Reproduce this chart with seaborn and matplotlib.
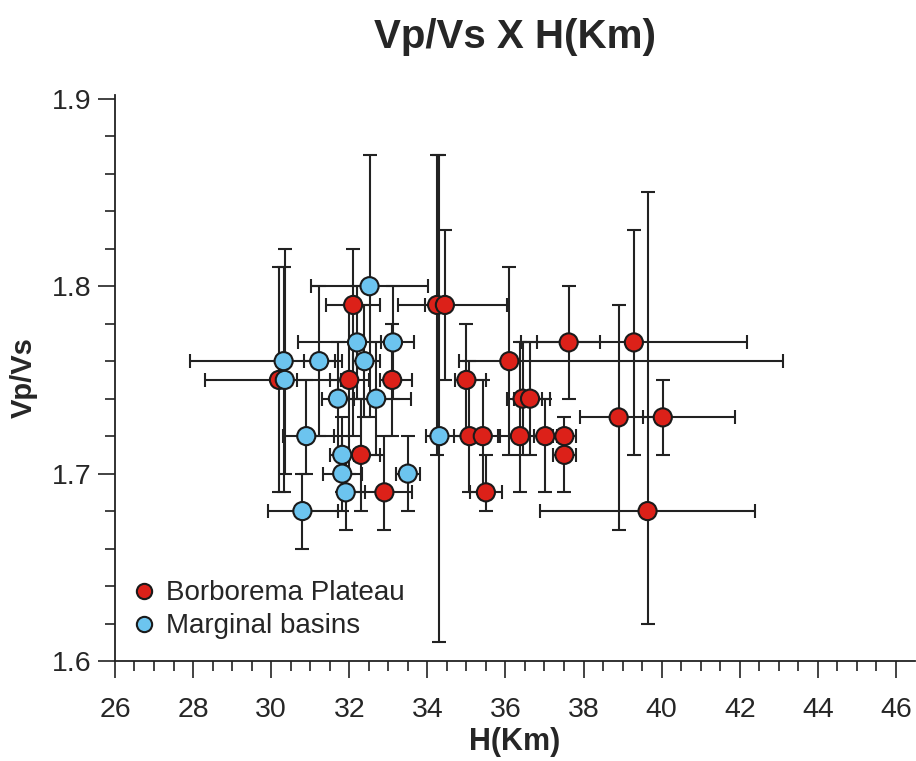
import numpy as np
import pandas as pd
import seaborn as sns
import matplotlib.pyplot as plt
from matplotlib.ticker import MultipleLocator

# Borborema Plateau stations: H (km), Vp/Vs and error bar extents (low side, high side)
red_h = [30.2, 32.1, 32.0, 33.1, 32.3, 32.9, 34.25, 34.45, 35.0, 36.1, 35.08, 35.42,
         35.5, 36.37, 36.44, 36.63, 37.02, 37.51, 37.51, 37.62, 39.29, 38.9, 40.03, 39.64]
red_vpvs = [1.75, 1.79, 1.75, 1.75, 1.71, 1.69, 1.79, 1.79, 1.75, 1.76, 1.72, 1.72,
            1.69, 1.72, 1.74, 1.74, 1.72, 1.72, 1.71, 1.77, 1.77, 1.73, 1.73, 1.68]
red_h_lo = [1.9, 0.7, 0.5, 0.3, 0.6, 1.0, 0.3, 1.2, 0.3, 1.3, 0.4, 0.3,
            0.4, 0.5, 0.4, 0.4, 0.3, 0.3, 0.3, 0.8, 2.9, 1.0, 0.5, 2.75]
red_h_hi = [1.6, 0.7, 0.5, 0.5, 0.5, 0.7, 0.3, 1.6, 0.5, 7.0, 0.4, 0.4,
            0.4, 0.5, 0.5, 0.5, 0.3, 0.3, 0.3, 0.8, 2.9, 1.0, 1.85, 2.75]
red_v_lo = [0.06, 0.07, 0.05, 0.03, 0.03, 0.02, 0.08, 0.04, 0.03, 0.05, 0.03, 0.03,
            0.01, 0.03, 0.03, 0.03, 0.03, 0.01, 0.02, 0.03, 0.06, 0.06, 0.02, 0.06]
red_v_hi = [0.06, 0.03, 0.04, 0.03, 0.03, 0.03, 0.08, 0.04, 0.03, 0.05, 0.04, 0.03,
            0.02, 0.05, 0.03, 0.03, 0.02, 0.01, 0.01, 0.03, 0.06, 0.06, 0.02, 0.17]

# Marginal basins stations
blue_h = [32.52, 32.2, 33.12, 30.32, 31.23, 32.39, 30.35, 31.71, 32.69, 30.9, 34.31,
          31.82, 31.82, 33.5, 31.91, 30.8]
blue_vpvs = [1.80, 1.77, 1.77, 1.76, 1.76, 1.76, 1.75, 1.74, 1.74, 1.72, 1.72,
             1.71, 1.70, 1.70, 1.69, 1.68]
blue_h_lo = [1.5, 1.5, 0.3, 2.4, 0.4, 0.3, 0.3, 0.4, 0.6, 0.6, 0.35,
             0.3, 0.5, 0.3, 0.1, 0.88]
blue_h_hi = [1.5, 0.9, 0.55, 1.5, 0.4, 0.4, 0.3, 0.4, 0.9, 0.7, 1.2,
             0.3, 0.5, 0.3, 0.5, 0.91]
blue_v_lo = [0.07, 0.03, 0.03, 0.07, 0.04, 0.03, 0.05, 0.03, 0.03, 0.02, 0.11,
             0.02, 0.02, 0.02, 0.02, 0.02]
blue_v_hi = [0.07, 0.03, 0.03, 0.05, 0.04, 0.03, 0.07, 0.03, 0.03, 0.03, 0.15,
             0.02, 0.02, 0.02, 0.02, 0.02]

groups = ["Borborema Plateau", "Marginal basins"]
colors = {"Borborema Plateau": "#dc2119", "Marginal basins": "#6cc4ef"}

df = pd.concat([
    pd.DataFrame({"H": red_h, "VpVs": red_vpvs, "h_lo": red_h_lo, "h_hi": red_h_hi,
                  "v_lo": red_v_lo, "v_hi": red_v_hi, "group": groups[0]}),
    pd.DataFrame({"H": blue_h, "VpVs": blue_vpvs, "h_lo": blue_h_lo, "h_hi": blue_h_hi,
                  "v_lo": blue_v_lo, "v_hi": blue_v_hi, "group": groups[1]}),
], ignore_index=True)

sns.set_style("ticks")
plt.rcParams["font.family"] = ["Liberation Sans Narrow", "Liberation Sans", "DejaVu Sans"]

fig = plt.figure(figsize=(9.16, 7.61), dpi=100)
ax = fig.add_axes([0.1255, 0.1314, 0.873, 0.7437])

ax.errorbar(df["H"], df["VpVs"],
            xerr=[df["h_lo"], df["h_hi"]], yerr=[df["v_lo"], df["v_hi"]],
            fmt="none", ecolor="#222222", elinewidth=1.5, capsize=5, capthick=1.5, zorder=2)

sns.scatterplot(data=df, x="H", y="VpVs", hue="group", hue_order=groups, palette=colors,
                s=170, edgecolor="#1a1a1a", linewidth=1.5, zorder=3, ax=ax)

ax.set_xlim(26, 46.48)
ax.set_ylim(1.6, 1.902)
ax.xaxis.set_major_locator(MultipleLocator(2))
ax.xaxis.set_minor_locator(MultipleLocator(0.5))
ax.yaxis.set_minor_locator(MultipleLocator(0.02))
ax.set_yticks([1.6, 1.7, 1.8, 1.9])
ax.set_yticklabels(["1.6", "1.7", "1.8", "1.9"])
ax.tick_params(which="major", length=12, width=1.2, labelsize=20.5, color="#222222", pad=5)
ax.tick_params(which="minor", length=7, width=1.2, color="#222222")
ax.tick_params(axis="x", pad=14)
for side in ["top", "right"]:
    ax.spines[side].set_visible(False)
for side in ["left", "bottom"]:
    ax.spines[side].set_linewidth(1.3)
    ax.spines[side].set_color("#222222")

ax.set_xlabel("H(Km)", fontsize=22, fontweight="bold", labelpad=3)
ax.set_ylabel("Vp/Vs", fontsize=21, fontweight="bold", labelpad=10)
ax.set_title("Vp/Vs X H(Km)", fontsize=29, fontweight="bold", pad=34)

leg = ax.legend(loc="lower left", bbox_to_anchor=(-0.012, -0.006), frameon=False,
                fontsize=20, handlelength=1.0, handletextpad=0.3, labelspacing=0.25,
                borderaxespad=0.5)
for h in leg.legend_handles:
    h.set_markersize(11)
    h.set_markeredgecolor("#1a1a1a")

fig.savefig("out.png", dpi=100)
